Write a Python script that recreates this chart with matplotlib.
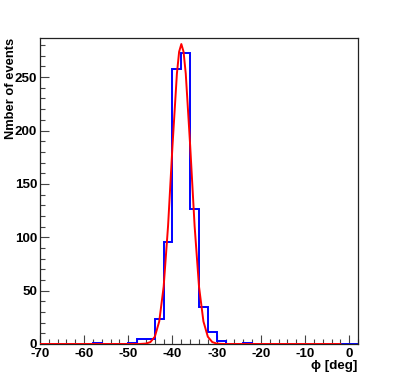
import matplotlib
matplotlib.use('Agg')
import matplotlib.pyplot as plt
from matplotlib.ticker import MultipleLocator

plt.rcParams['axes.unicode_minus'] = False

# histogram: 36 bins of 2 deg from -70 to 2
bin_edges = [-70 + 2 * i for i in range(37)]
counts = [0, 0, 0, 0, 0, 0, 1, 0, 0, 0,
          1, 5, 5, 23, 96, 258, 273, 126, 35, 11,
          3, 0, 0, 1, 0, 0, 0, 0, 0, 0,
          0, 0, 0, 0, 0, 0]

# gaussian fit curve
fit_x = [-70, -47.5, -46, -45, -44, -43, -42, -41, -40, -39, -38.5, -38,
         -37.5, -37, -36, -35, -34, -33, -32, -31, -30, -29, -28, -2]
fit_y = [0, 0, 0.4, 1.8, 6.8, 21.2, 53.8, 110.9, 185.9, 253.4, 273.8, 281,
         273.8, 253.4, 185.9, 110.9, 53.8, 21.2, 6.8, 1.8, 0.4, 0.1, 0, 0]

xlabel = 'ϕ [deg]'
ylabel = 'Nmber of events'

fams = ['Liberation Sans', 'DejaVu Sans']

fig = plt.figure(figsize=(3.98, 3.82), dpi=100)
ax = fig.add_axes([0.1005, 0.0995, 0.799, 0.801])

ax.stairs(counts, bin_edges, color='#0000ff', linewidth=1.4, baseline=0, zorder=2)
ax.plot(fit_x, fit_y, color='#ff0000', linewidth=1.4, zorder=3)

ax.set_xlim(-70, 2)
ax.set_ylim(0, max(counts) * 1.05)

ax.xaxis.set_major_locator(MultipleLocator(10))
ax.xaxis.set_minor_locator(MultipleLocator(2))
ax.yaxis.set_major_locator(MultipleLocator(50))
ax.yaxis.set_minor_locator(MultipleLocator(10))

ax.tick_params(which='both', direction='in', top=False, right=False,
               width=0.8, color='#444444')
ax.tick_params(axis='x', which='major', length=6.5, pad=3.2)
ax.tick_params(axis='x', which='minor', length=3.3)
ax.tick_params(axis='y', which='major', length=6.8, pad=2)
ax.tick_params(axis='y', which='minor', length=3.5)

for lab in ax.get_xticklabels() + ax.get_yticklabels():
    lab.set_family(fams)
    lab.set_fontweight('bold')
    lab.set_fontsize(9.6)

for sp in ax.spines.values():
    sp.set_linewidth(0.9)
    sp.set_color('#222222')

fig.text(357 / 398, 1 - 366 / 382, xlabel, ha='right', va='center',
         family=fams, fontweight='bold', fontsize=9.6)
fig.text(11 / 398, 1 - 38 / 382, ylabel, ha='center', va='top', rotation=90,
         family=fams, fontweight='bold', fontsize=9.3)

fig.savefig('out.png', dpi=100)
